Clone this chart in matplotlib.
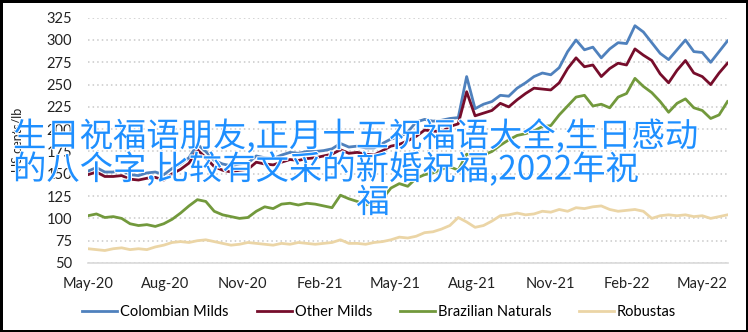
import matplotlib
matplotlib.use('Agg')
import matplotlib.pyplot as plt
import matplotlib.dates as mdates
import matplotlib.patheffects as pe
import pandas as pd

# ICO composite group prices, US cents/lb, sampled every 10 days
dates = pd.date_range('2020-05-01', periods=77, freq='10D')

colombian_milds = [153, 157, 152, 152, 154, 149, 148, 151, 152, 149,
                   156, 161, 168, 183, 175, 165, 161, 159, 161, 162,
                   170, 168, 167, 171, 174, 173, 175, 175, 176, 178,
                   184, 180, 181, 179, 179, 184, 189, 191, 197, 208,
                   211, 209, 210, 212, 213, 259, 223, 228, 231, 238,
                   237, 246, 252, 259, 263, 261, 269, 287, 300, 289,
                   292, 280, 290, 297, 296, 316, 309, 297, 285, 278,
                   289, 300, 287, 286, 275, 287, 299]
other_milds = [149, 152, 147, 147, 148, 144, 143, 145, 146, 143,
               150, 155, 162, 177, 168, 158, 154, 152, 154, 155,
               163, 161, 160, 163, 166, 165, 167, 168, 170, 172,
               177, 173, 174, 172, 171, 176, 181, 183, 187, 192,
               199, 198, 197, 203, 206, 242, 215, 218, 221, 229,
               225, 233, 240, 246, 245, 244, 252, 268, 280, 270,
               272, 259, 268, 274, 272, 290, 283, 277, 262, 252,
               266, 277, 263, 259, 250, 263, 274]
brazilian_naturals = [103, 105, 101, 102, 100, 94, 92, 93, 91, 94,
                      99, 106, 114, 121, 119, 108, 104, 102, 100, 101,
                      108, 113, 111, 116, 117, 115, 117, 116, 114, 112,
                      126, 122, 119, 115, 118, 122, 134, 139, 136, 145,
                      149, 151, 155, 158, 154, 172, 170, 171, 175, 182,
                      188, 193, 195, 198, 203, 204, 216, 226, 236, 238,
                      226, 228, 224, 236, 240, 257, 248, 241, 231, 219,
                      229, 234, 224, 221, 212, 216, 231]
robustas = [66, 65, 64, 66, 67, 65, 66, 65, 68, 70,
            73, 74, 73, 75, 76, 74, 72, 70, 71, 73,
            72, 71, 70, 72, 71, 73, 72, 71, 72, 73,
            76, 72, 72, 71, 73, 74, 76, 79, 78, 80,
            84, 85, 88, 92, 101, 96, 90, 92, 97, 103,
            104, 106, 104, 105, 108, 107, 110, 108, 112, 111,
            113, 114, 110, 108, 109, 110, 108, 100, 103, 104,
            103, 104, 102, 103, 100, 102, 104]

series = [('Colombian Milds', colombian_milds, '#4F81BD'),
          ('Other Milds', other_milds, '#760D2B'),
          ('Brazilian Naturals', brazilian_naturals, '#72993C'),
          ('Robustas', robustas, '#EBD5A6')]

overlay_lines = ['生日祝福语朋友,正月十五祝福语大全,生日感动',
                 '的八个字,比较有文采的新婚祝福,2022年祝',
                 '福']

plt.rcParams['font.family'] = ['Lato', 'DejaVu Sans']

fig = plt.figure(figsize=(7.48, 3.32), dpi=100)
fig.patch.set_edgecolor('black')
fig.patch.set_linewidth(2.5)
ax = fig.add_axes([88 / 748, 1 - 263 / 332, 639.5 / 748, 245.3 / 332])

for name, values, color in series:
    ax.plot(dates, values, color=color, lw=2.0, label=name,
            solid_joinstyle='round')

ax.set_ylim(50, 325)
ax.set_yticks(range(50, 326, 25))
ax.set_xlim(pd.Timestamp('2020-05-01'), pd.Timestamp('2022-05-31'))
ax.xaxis.set_major_locator(mdates.MonthLocator(bymonth=[2, 5, 8, 11]))
ax.xaxis.set_major_formatter(mdates.DateFormatter('%b-%y'))

ax.grid(axis='y', color='#C9C9C9', ls=(0, (1, 2)), lw=1.1)
ax.set_axisbelow(True)
for side in ['left', 'right', 'top']:
    ax.spines[side].set_visible(False)
ax.spines['bottom'].set_color('#D9D9D9')
ax.spines['bottom'].set_linewidth(1.2)
ax.tick_params(axis='y', length=0, pad=11.5, labelsize=10.5, colors='#222222')
ax.tick_params(axis='x', length=0, pad=10, labelsize=10.5, colors='#222222')

fig.text(18 / 748, 1 - 140 / 332, 'US cents/lb', rotation=90,
         ha='center', va='center', fontsize=9, color='#222222')

fig.legend(loc='center', bbox_to_anchor=(0.507, 1 - 312 / 332), ncol=4,
           frameon=False, fontsize=10.5, handlelength=2.4,
           handletextpad=0.2, columnspacing=1.9)

# blue caption drawn across the plot
cjk = ['Noto Sans CJK SC', 'DejaVu Sans']
stroke = [pe.withStroke(linewidth=1.5, foreground='white')]
fig.text(13 / 748, 1 - 137 / 332, overlay_lines[0], ha='left', va='center',
         fontsize=24, color='#1E8FFF', family=cjk, weight='medium',
         path_effects=stroke)
fig.text(13 / 748, 1 - 170 / 332, overlay_lines[1], ha='left', va='center',
         fontsize=24, color='#1E8FFF', family=cjk, weight='medium',
         path_effects=stroke)
fig.text(373 / 748, 1 - 203 / 332, overlay_lines[2], ha='center', va='center',
         fontsize=24, color='#1E8FFF', family=cjk, weight='medium',
         path_effects=stroke)

fig.savefig('out.png', dpi=100, edgecolor=fig.get_edgecolor())
